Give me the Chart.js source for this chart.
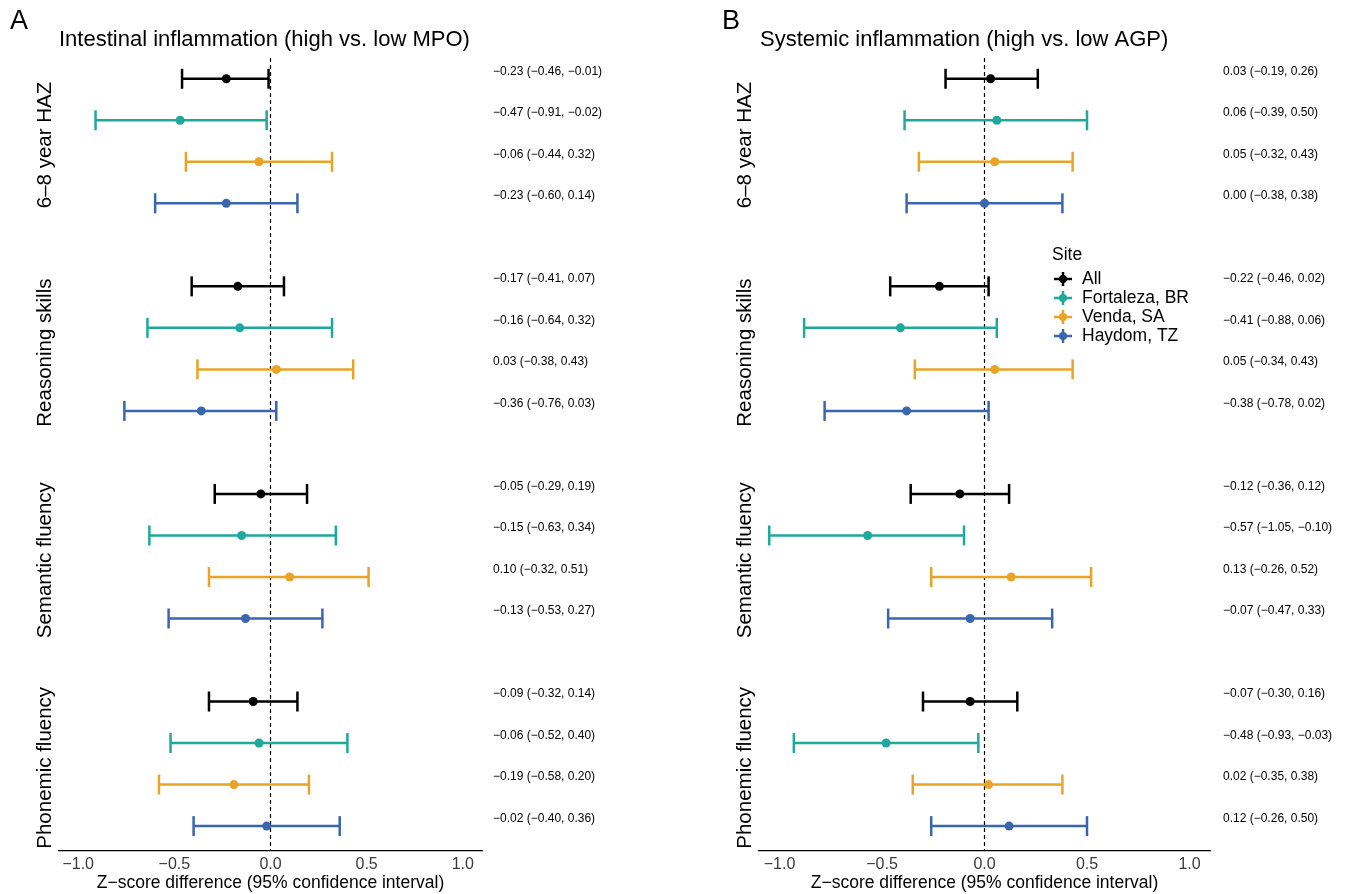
<!doctype html>
<html lang="en">
<head>
<meta charset="utf-8">
<title>Inflammation and child outcomes</title>
<script src="https://cdn.jsdelivr.net/npm/chart.js@4.4.1/dist/chart.umd.min.js"></script>
<style>
  body { margin: 0; background: #fff; }
  canvas { position: absolute; top: 0; }
</style>
</head>
<body>
<canvas id="panelA" width="673" height="894" style="left:0"></canvas>
<canvas id="panelB" width="673" height="894" style="left:673px"></canvas>
<script>
// outcomes (facet rows) and sites (rows inside each facet)
const outcomes = ['6\u20138 year HAZ', 'Reasoning skills', 'Semantic fluency', 'Phonemic fluency'];
const sites = ['All', 'Fortaleza, BR', 'Venda, SA', 'Haydom, TZ'];
const siteColors = ['#000000', '#1FA99A', '#E9A425', '#3A66AD'];
const xTicks = [-1, -0.5, 0, 0.5, 1];

// A: high vs low MPO, order = outcome by outcome, sites inside
const mpoEst  = [-0.23, -0.47, -0.06, -0.23,  -0.17, -0.16, 0.03, -0.36,  -0.05, -0.15, 0.10, -0.13,  -0.09, -0.06, -0.19, -0.02];
const mpoLow  = [-0.46, -0.91, -0.44, -0.60,  -0.41, -0.64, -0.38, -0.76,  -0.29, -0.63, -0.32, -0.53,  -0.32, -0.52, -0.58, -0.40];
const mpoHigh = [-0.01, -0.02, 0.32, 0.14,    0.07, 0.32, 0.43, 0.03,      0.19, 0.34, 0.51, 0.27,      0.14, 0.40, 0.20, 0.36];

// B: high vs low AGP
const agpEst  = [0.03, 0.06, 0.05, 0.00,      -0.22, -0.41, 0.05, -0.38,  -0.12, -0.57, 0.13, -0.07,  -0.07, -0.48, 0.02, 0.12];
const agpLow  = [-0.19, -0.39, -0.32, -0.38,  -0.46, -0.88, -0.34, -0.78, -0.36, -1.05, -0.26, -0.47, -0.30, -0.93, -0.35, -0.26];
const agpHigh = [0.26, 0.50, 0.43, 0.38,      0.02, 0.06, 0.43, 0.02,     0.12, -0.10, 0.52, 0.33,    0.16, -0.03, 0.38, 0.50];

const FONT = '"Liberation Sans", Arial, Helvetica, sans-serif';

// row slot on the y scale: 4 sites per outcome plus one empty slot between outcomes
function rowOf(k) { return Math.floor(k / 4) * 5 + (k % 4); }
function fmt(v) { return (v < 0 ? '\u2212' : '') + Math.abs(v).toFixed(2); }

const annot = {
  id: 'annot',
  afterDraw(chart, args, o) {
    const ctx = chart.ctx, y = chart.scales.y;
    ctx.save();
    ctx.fillStyle = '#000';
    ctx.textBaseline = 'middle';
    ctx.textAlign = 'left';
    ctx.font = '27px ' + FONT;
    ctx.fillText(o.letter, o.letterX, 22);
    ctx.font = '22px ' + FONT;
    ctx.fillText(o.title, o.titleX, 40);

    // facet strip labels on the left
    ctx.font = '20.5px ' + FONT;
    ctx.textAlign = 'center';
    outcomes.forEach((name, i) => {
      ctx.save();
      ctx.translate(o.outcomeX, y.getPixelForValue(i * 5 + 1.5) + 4);
      ctx.rotate(-Math.PI / 2);
      ctx.fillText(name, 0, 0);
      ctx.restore();
    });

    ctx.font = '12px ' + FONT;
    ctx.textAlign = 'left';
    o.est.forEach((v, k) => {
      const txt = fmt(v) + ' (' + fmt(o.low[k]) + ', ' + fmt(o.high[k]) + ')';
      ctx.fillText(txt, o.labelX, y.getPixelForValue(rowOf(k)) - 7.5);
    });

    if (o.legend) {
      const L = o.legend;
      ctx.font = '17.5px ' + FONT;
      ctx.fillText('Site', L.x, L.y);
      sites.forEach((s, j) => {
        const cy = L.y + 24 + j * 19;
        ctx.strokeStyle = siteColors[j];
        ctx.fillStyle = siteColors[j];
        ctx.lineWidth = 2.5;
        ctx.beginPath();
        ctx.moveTo(L.x + 2, cy); ctx.lineTo(L.x + 20, cy);
        ctx.moveTo(L.x + 11, cy - 7); ctx.lineTo(L.x + 11, cy + 7);
        ctx.stroke();
        ctx.beginPath();
        ctx.arc(L.x + 11, cy, 4, 0, Math.PI * 2);
        ctx.fill();
        ctx.fillStyle = '#000';
        ctx.fillText(s, L.x + 30, cy);
      });
    }
    ctx.restore();
  }
};

function makePanel(id, o) {
  const datasets = [];
  // zero reference line
  datasets.push({
    data: [{ x: 0, y: -0.5 }, { x: 0, y: 18.6 }],
    showLine: true, borderColor: '#000', borderWidth: 1.2, borderDash: [4, 3],
    pointRadius: 0, order: 3
  });
  // confidence intervals with caps
  o.est.forEach((v, k) => {
    const c = siteColors[k % 4];
    datasets.push({
      data: [{ x: o.low[k], y: rowOf(k) }, { x: o.high[k], y: rowOf(k) }],
      showLine: true, borderColor: c, borderWidth: 2.5,
      pointStyle: 'line', pointRotation: 90, pointRadius: 10,
      pointBorderColor: c, pointBorderWidth: 2.5, order: 2
    });
  });
  // point estimates per site
  sites.forEach((s, j) => {
    const pts = [];
    o.est.forEach((v, k) => { if (k % 4 === j) pts.push({ x: v, y: rowOf(k) }); });
    datasets.push({
      label: s, data: pts, pointRadius: 4.5, pointBorderWidth: 0,
      pointBackgroundColor: siteColors[j], order: 1
    });
  });

  return new Chart(document.getElementById(id), {
    type: 'scatter',
    data: { datasets },
    plugins: [annot],
    options: {
      responsive: false,
      animation: false,
      layout: { padding: { left: o.padLeft, right: o.padRight, top: 58, bottom: 0 } },
      plugins: { legend: { display: false }, tooltip: { enabled: false }, annot: o },
      scales: {
        x: {
          min: -1.1, max: 1.1,
          afterBuildTicks: s => { s.ticks = xTicks.map(v => ({ value: v })); },
          afterFit: s => { s.height = 43; },
          grid: { display: false, drawTicks: false },
          border: { display: true, color: '#000', width: 1.2 },
          ticks: {
            autoSkip: false, maxRotation: 0, padding: 4, color: '#3a3a3a',
            font: { family: FONT, size: 16 },
            callback: v => (v < 0 ? '\u2212' : '') + Math.abs(v).toFixed(1)
          },
          title: {
            display: true, text: 'Z\u2212score difference (95% confidence interval)', color: '#000',
            font: { family: FONT, size: 17.5 }, padding: { top: 0, bottom: 0 }
          }
        },
        y: { display: false, reverse: true, min: -0.5, max: 18.6 }
      }
    }
  });
}

makePanel('panelA', {
  letter: 'A', letterX: 10, title: 'Intestinal inflammation (high vs. low MPO)', titleX: 59,
  est: mpoEst, low: mpoLow, high: mpoHigh,
  padLeft: 59, padRight: 191, labelX: 493, outcomeX: 45
});
makePanel('panelB', {
  letter: 'B', letterX: 49, title: 'Systemic inflammation (high vs. low AGP)', titleX: 87,
  est: agpEst, low: agpLow, high: agpHigh,
  padLeft: 86, padRight: 136, labelX: 550, outcomeX: 72,
  legend: { x: 379, y: 255 }
});
</script>
</body>
</html>
